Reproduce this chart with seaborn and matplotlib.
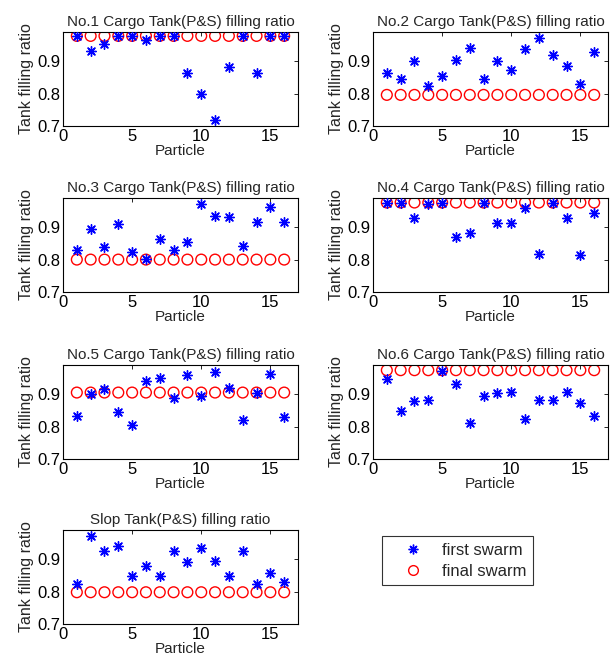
import numpy as np
import pandas as pd
import matplotlib
matplotlib.use("Agg")
import matplotlib.pyplot as plt
import seaborn as sns
from matplotlib.lines import Line2D

sns.set_style("white")
plt.rcParams["font.family"] = ["Liberation Sans", "DejaVu Sans"]

# ------------------------------
# DATA
# ------------------------------
particles = list(range(1, 17))

titles = [
    "No.1 Cargo Tank(P&S) filling ratio",
    "No.2 Cargo Tank(P&S) filling ratio",
    "No.3 Cargo Tank(P&S) filling ratio",
    "No.4 Cargo Tank(P&S) filling ratio",
    "No.5 Cargo Tank(P&S) filling ratio",
    "No.6 Cargo Tank(P&S) filling ratio",
    "Slop Tank(P&S) filling ratio",
]

first_tank1 = [0.978, 0.930, 0.952, 0.978, 0.978, 0.965, 0.978, 0.978,
               0.863, 0.800, 0.718, 0.882, 0.978, 0.865, 0.978, 0.978]
first_tank2 = [0.862, 0.845, 0.900, 0.822, 0.855, 0.903, 0.940, 0.845,
               0.900, 0.874, 0.938, 0.970, 0.918, 0.885, 0.831, 0.927]
first_tank3 = [0.830, 0.893, 0.840, 0.910, 0.823, 0.802, 0.864, 0.830,
               0.854, 0.973, 0.934, 0.931, 0.843, 0.915, 0.962, 0.915]
first_tank4 = [0.976, 0.976, 0.927, 0.970, 0.976, 0.870, 0.883, 0.976,
               0.913, 0.913, 0.960, 0.818, 0.976, 0.927, 0.814, 0.945]
first_tank5 = [0.833, 0.900, 0.915, 0.845, 0.805, 0.940, 0.950, 0.888,
               0.960, 0.895, 0.968, 0.918, 0.820, 0.903, 0.962, 0.830]
first_tank6 = [0.947, 0.847, 0.880, 0.883, 0.973, 0.930, 0.810, 0.893,
               0.903, 0.906, 0.823, 0.883, 0.883, 0.908, 0.872, 0.834]
first_slop = [0.824, 0.973, 0.924, 0.942, 0.847, 0.880, 0.847, 0.925,
              0.890, 0.935, 0.895, 0.847, 0.925, 0.824, 0.858, 0.831]

final_tank1 = [0.978] * 16
final_tank2 = [0.796] * 16
final_tank3 = [0.800] * 16
final_tank4 = [0.976] * 16
final_tank5 = [0.905] * 16
final_tank6 = [0.974] * 16
final_slop = [0.798] * 16

first_all = [first_tank1, first_tank2, first_tank3, first_tank4,
             first_tank5, first_tank6, first_slop]
final_all = [final_tank1, final_tank2, final_tank3, final_tank4,
             final_tank5, final_tank6, final_slop]

# ------------------------------
# LAYOUT (pixel positions of the MATLAB subplots)
# ------------------------------
W, H = 611, 668
fig = plt.figure(figsize=(W / 100, H / 100), dpi=100)

col_left = [63, 373]
ax_w = 235
row_top = [32, 198, 365, 530]
ax_h = 94

star = (8, 2, 0)

for i, title in enumerate(titles):
    r, c = divmod(i, 2)
    x0 = col_left[c] / W
    y0 = 1 - (row_top[r] + ax_h) / H
    ax = fig.add_axes([x0, y0, ax_w / W, ax_h / H])

    df = pd.DataFrame({"particle": particles,
                       "first": first_all[i],
                       "final": final_all[i]})

    sns.scatterplot(data=df, x="particle", y="final", ax=ax, marker="o",
                    s=60, facecolors="none", edgecolor="red", linewidth=1.0,
                    zorder=2)
    sns.scatterplot(data=df, x="particle", y="first", ax=ax, marker=star,
                    s=48, color="blue", linewidth=1.0, zorder=3)

    ax.set_xlim(0, 17)
    ax.set_ylim(0.7, 0.99)
    ax.set_xticks([0, 5, 10, 15])
    ax.set_yticks([0.7, 0.8, 0.9])
    ax.set_yticklabels(["0.7", "0.8", "0.9"])
    ax.tick_params(direction="in", length=3, width=0.6, labelsize=12,
                   top=True, right=True, pad=2, colors="black")
    for sp in ax.spines.values():
        sp.set_color("black")
        sp.set_linewidth(0.8)
    ax.set_title(title, fontsize=11, pad=4)
    ax.set_xlabel("Particle", fontsize=11, labelpad=0)
    ax.set_ylabel("Tank filling ratio", fontsize=11.5, labelpad=2)

# legend in the empty eighth slot
handles = [
    Line2D([], [], linestyle="none", marker=star, color="blue",
           markersize=7, markeredgewidth=1.0),
    Line2D([], [], linestyle="none", marker="o", markerfacecolor="none",
           markeredgecolor="red", markersize=7, markeredgewidth=1.0),
]
leg = fig.legend(handles, ["first swarm", "final swarm"],
                 loc="upper left",
                 bbox_to_anchor=(382 / W, 1 - 536 / H),
                 borderaxespad=0,
                 frameon=True, fancybox=False, fontsize=12,
                 handletextpad=0.3, borderpad=0.4, labelspacing=0.35,
                 handlelength=2.9)
leg.get_frame().set_edgecolor("black")
leg.get_frame().set_linewidth(0.8)

fig.savefig("out.png", dpi=100)
